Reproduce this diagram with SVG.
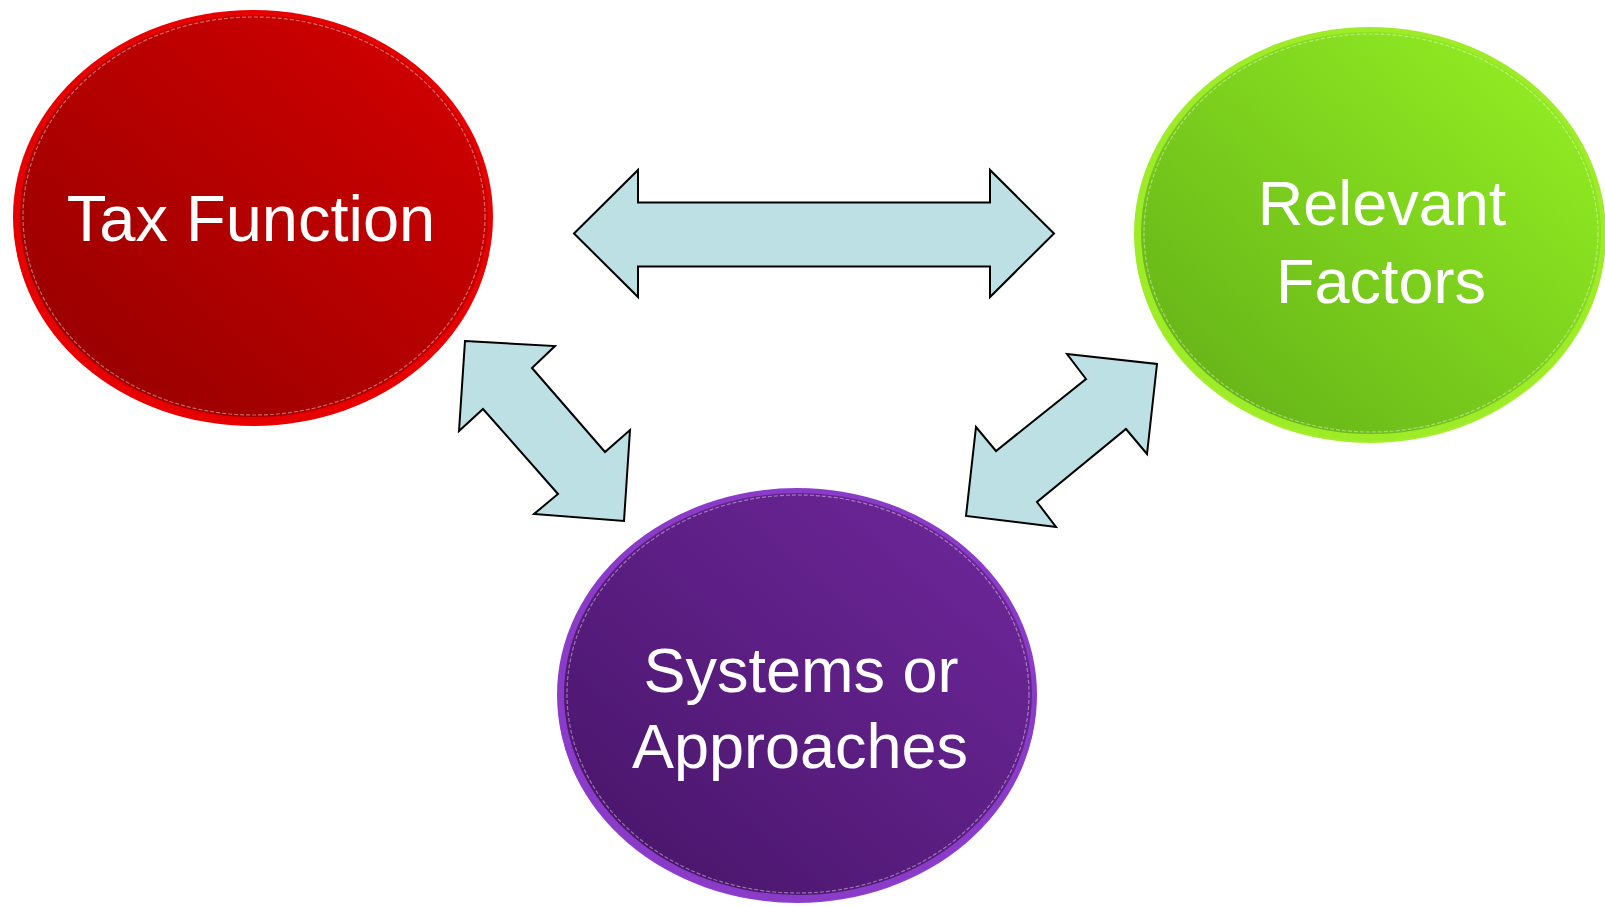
<svg xmlns="http://www.w3.org/2000/svg" width="1605" height="906" viewBox="0 0 1605 906">
  <style>
    .label { font-family: "Liberation Sans", Arial, sans-serif; font-size: 63px; fill: #ffffff; text-anchor: middle; }
    .arrow { fill: #bce0e3; stroke: #000000; stroke-width: 2; stroke-linejoin: miter; }
    .seam { fill: none; stroke: #ffffff; stroke-opacity: 0.4; stroke-width: 1.2; stroke-dasharray: 4 2; }
  </style>
  <defs>
    <linearGradient id="redFace" x1="0.1" y1="0.9" x2="0.9" y2="0.1">
      <stop offset="0" stop-color="#980000"/>
      <stop offset="1" stop-color="#d00000"/>
    </linearGradient>
    <linearGradient id="greenFace" x1="0.1" y1="0.9" x2="0.9" y2="0.1">
      <stop offset="0" stop-color="#66b418"/>
      <stop offset="1" stop-color="#92ec22"/>
    </linearGradient>
    <linearGradient id="purpleFace" x1="0.1" y1="0.9" x2="0.9" y2="0.1">
      <stop offset="0" stop-color="#4a166c"/>
      <stop offset="1" stop-color="#6c2698"/>
    </linearGradient>
  </defs>

  <rect width="1605" height="906" fill="#ffffff"/>

  <!-- connectors: double-headed block arrows -->
  <g id="connectors">
    <polygon class="arrow" points="574,233.5 638,170 638,202.5 990,202.5 990,170 1054,233.5 990,297 990,266.5 638,266.5 638,297"/>
    <polygon class="arrow" points="465,341 555,346 532,368 605,452 630,430 624,521 534,514 558,494 483,409 459,431"/>
    <polygon class="arrow" points="1067,354 1157,364 1147,454 1126,429 1037,502 1056,527 966,516 976,427 996,451 1086,379"/>
  </g>

  <!-- node: Tax Function -->
  <g id="tax-function">
    <ellipse cx="253" cy="221" rx="239" ry="205" fill="#e80000"/>
    <ellipse cx="253" cy="217" rx="240" ry="207" fill="#e60000"/>
    <ellipse cx="254" cy="216" rx="234" ry="201" fill="url(#redFace)"/>
    <ellipse class="seam" cx="254" cy="216" rx="231" ry="199"/>
    <text class="label" x="251" y="241" style="font-size:65px">Tax Function</text>
  </g>

  <!-- node: Relevant Factors -->
  <g id="relevant-factors">
    <ellipse cx="1370" cy="238" rx="235" ry="205" fill="#a4ee2c"/>
    <ellipse cx="1370" cy="234" rx="236" ry="207" fill="#9eec28"/>
    <ellipse cx="1371" cy="233" rx="230" ry="201" fill="url(#greenFace)"/>
    <ellipse class="seam" cx="1371" cy="233" rx="227" ry="199"/>
    <text class="label" x="1382" y="225">Relevant</text>
    <text class="label" x="1381" y="303">Factors</text>
  </g>

  <!-- node: Systems or Approaches -->
  <g id="systems-approaches">
    <ellipse cx="797" cy="699" rx="239" ry="204" fill="#9040d0"/>
    <ellipse cx="797" cy="695" rx="240" ry="207" fill="#8a3cc8"/>
    <ellipse cx="798" cy="694" rx="234" ry="201" fill="url(#purpleFace)"/>
    <ellipse class="seam" cx="798" cy="694" rx="231" ry="199"/>
    <text class="label" x="801" y="692">Systems or</text>
    <text class="label" x="800" y="768">Approaches</text>
  </g>
</svg>
